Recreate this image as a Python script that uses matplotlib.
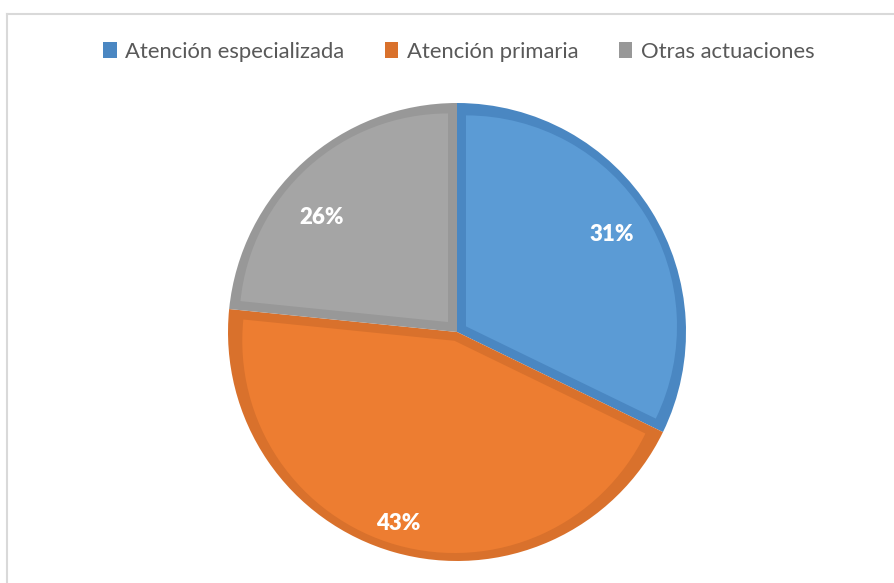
import matplotlib
matplotlib.use("Agg")
import matplotlib.pyplot as plt
from matplotlib.patches import Wedge, Patch
from matplotlib.lines import Line2D
import numpy as np

categories = ["Atención especializada", "Atención primaria", "Otras actuaciones"]
values = [32.2, 44.4, 23.4]
pct_labels = ["31%", "43%", "26%"]

fill_colors = ["#5b9bd5", "#ed7d31", "#a5a5a5"]
band_colors = ["#4a87c2", "#d9712c", "#989898"]
legend_colors = ["#4a87c2", "#d9712c", "#989898"]

W, H = 894, 583
fig = plt.figure(figsize=(W / 100, H / 100), dpi=100)
fig.patch.set_facecolor("white")

# frame lines
fig.add_artist(Line2D([6.5 / W, 1.0], [1 - 13.5 / H, 1 - 13.5 / H], color="#d9d9d9", lw=1.5))
fig.add_artist(Line2D([6.5 / W, 6.5 / W], [0, 1 - 13.5 / H], color="#d9d9d9", lw=1.5))

cx, cy, R = 457, 332, 229
half = 260
ax = fig.add_axes([(cx - half) / W, (H - cy - half) / H, 2 * half / W, 2 * half / H])

wedges, _ = ax.pie(values, colors=band_colors, startangle=90, counterclock=False,
                   radius=1.0, wedgeprops=dict(linewidth=0))

d = 9 / R
for w, fc in zip(wedges, fill_colors):
    t1, t2 = w.theta1, w.theta2
    mid = np.deg2rad((t1 + t2) / 2)
    halfang = np.deg2rad((t2 - t1) / 2)
    off = d / np.sin(min(halfang, np.pi / 2))
    ox, oy = off * np.cos(mid), off * np.sin(mid)
    inner = Wedge((ox, oy), 1.0 - d - off * 0.85, t1, t2, facecolor=fc, linewidth=0)
    ax.add_patch(inner)

ax.set_xlim(-half / R, half / R)
ax.set_ylim(-half / R, half / R)
ax.set_aspect("equal")
ax.axis("off")

label_pos = [(0.677, 0.424), (-0.258, -0.838), (-0.590, 0.498)]
for (x, y), t in zip(label_pos, pct_labels):
    ax.text(x, y, t, ha="center", va="center", color="white", fontsize=16,
            fontweight="heavy", family="Lato")

handles = [Patch(facecolor=c, edgecolor="none") for c in legend_colors]
leg = fig.legend(handles, categories, loc="center", bbox_to_anchor=(459 / W, 1 - 52 / H),
                 ncol=3, frameon=False, prop=dict(family="Lato", size=15.8),
                 handlelength=0.6, handleheight=0.75, handletextpad=0.4, columnspacing=1.85)
for t in leg.get_texts():
    t.set_color("#595959")

fig.savefig("out.png", dpi=100)
